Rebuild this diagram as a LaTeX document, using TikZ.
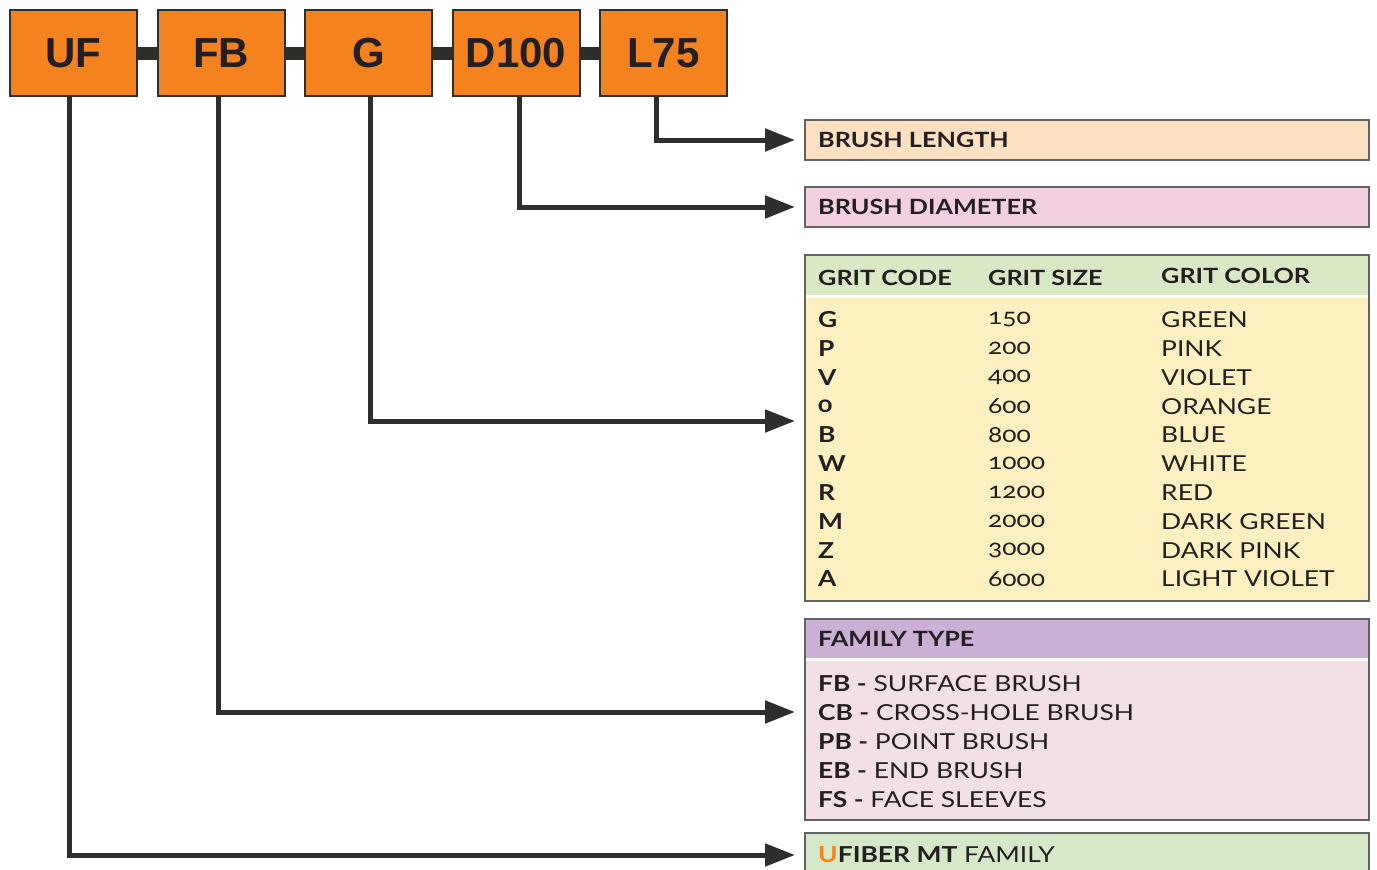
\documentclass[tikz,border=0pt]{standalone}
\usepackage{fontspec}
\setmainfont{Lato}[Numbers=OldStyle, FakeStretch=1.2]
\newfontfamily\codefont{Liberation Sans}
\usetikzlibrary{arrows.meta,positioning}
\definecolor{boxorange}{HTML}{F4831F}
\definecolor{ink}{HTML}{2D2F2D}
\definecolor{peach}{HTML}{FDE0C2}
\definecolor{rosy}{HTML}{F2D0E2}
\definecolor{leaf}{HTML}{D9E8C5}
\definecolor{cream}{HTML}{FDF0C0}
\definecolor{lilac}{HTML}{CBB0D5}
\definecolor{blush}{HTML}{F3E0E6}
\definecolor{mint}{HTML}{D5E8C8}
\definecolor{textdark}{HTML}{231F20}
\begin{document}
\begin{tikzpicture}[x=1pt, y=-1pt, node distance=18.5pt,
    code node/.style={draw=ink, line width=2pt, fill=boxorange, minimum width=127pt, minimum height=86pt, inner sep=0pt, text=textdark, font=\codefont\bfseries\fontsize{42}{42}\selectfont},
    panel/.style={minimum width=564pt, inner sep=0pt, outer sep=0pt, anchor=north west},
    frame/.style={draw=ink!75, line width=1.2pt},
    label/.style={anchor=west, inner sep=0pt, text=textdark, font=\fontsize{22}{22}\selectfont},
    head/.style={label, font=\bfseries\fontsize{21}{21}\selectfont},
    link/.style={ink, line width=5pt, -{Triangle[length=30pt,width=22pt]}, shorten >=10pt}]
  \useasboundingbox (0,0) rectangle (1377,870);

  \node[code node] (uf) at (73.5,53) {UF};
  \node[code node] (fb) [right=of uf] {FB};
  \node[code node] (g) [right=of fb] {G};
  \node[code node] (d100) [right=of g] {D100};
  \node[code node] (l75) [right=of d100] {L75};
  \draw[ink, line width=13pt] (uf) -- (fb) (fb) -- (g) (g) -- (d100) (d100) -- (l75);

  \node[panel, frame, fill=peach, minimum height=40pt] (length) at (805,120) {};
  \node[head] (lengthtxt) [right=13pt of length.west] {BRUSH LENGTH};

  \node[panel, frame, fill=rosy, minimum height=40pt] (diameter) at (805,187) {};
  \node[head] (diametertxt) [right=13pt of diameter.west] {BRUSH DIAMETER};

  \node[panel, fill=cream, minimum height=346pt] (grit) at (805,255) {};
  \node[panel, fill=leaf, minimum height=41pt] (grithead) at (805,255) {};
  \draw[white, line width=3pt] (grithead.south west) -- (grithead.south east);
  \draw[frame] (grit.north west) rectangle (grit.south east);
  \node[head] (gcode) at (818,278) {GRIT CODE};
  \node[head] (gsize) at (988,278) {GRIT SIZE};
  \node[head] (gcolor) at (1161,276) {GRIT COLOR};
  \foreach \code/\size/\colour [count=\i] in {G/150/GREEN, P/200/PINK, V/400/VIOLET, 0/600/ORANGE, B/800/BLUE, W/1000/WHITE, R/1200/RED, M/2000/DARK GREEN, Z/3000/DARK PINK, A/6000/LIGHT VIOLET} {
    \node[label, font=\bfseries\fontsize{22}{22}\selectfont] (code\i) at (818,291+28.8*\i) {\code};
    \node[label] (size\i) at (988,291+28.8*\i) {\size};
    \node[label] (colour\i) at (1161,291+28.8*\i) {\colour};
  }

  \node[panel, fill=blush, minimum height=201pt] (family) at (805,619) {};
  \node[panel, fill=lilac, minimum height=40pt] (familyhead) at (805,619) {};
  \draw[white, line width=3pt] (familyhead.south west) -- (familyhead.south east);
  \draw[frame] (family.north west) rectangle (family.south east);
  \node[head] (familytxt) [right=13pt of familyhead.west] {FAMILY TYPE};
  \foreach \abbr/\kind [count=\i] in {FB/SURFACE BRUSH, CB/CROSS-HOLE BRUSH, PB/POINT BRUSH, EB/END BRUSH, FS/FACE SLEEVES} {
    \node[label] (kind\i) at (818,655+29*\i) {\textbf{\abbr\ -} \kind};
  }

  \node[panel, frame, fill=mint, minimum height=44pt] (ufiber) at (805,833) {};
  \node[label] (ufibertxt) [right=13pt of ufiber.west] {\textbf{\textcolor{boxorange}{U}FIBER MT} FAMILY};

  \coordinate (gritin) at (805,421);
  \coordinate (familyin) at (805,712);
  \draw[link] ([xshift=-4.5pt]uf.south) |- (ufiber.west);
  \draw[link] ([xshift=-2.5pt]fb.south) |- (familyin);
  \draw[link] ([xshift=1.5pt]g.south) |- (gritin);
  \draw[link] ([xshift=3.5pt]d100.south) |- (diameter.west);
  \draw[link] ([xshift=-7.5pt]l75.south) |- (length.west);
\end{tikzpicture}
\end{document}
